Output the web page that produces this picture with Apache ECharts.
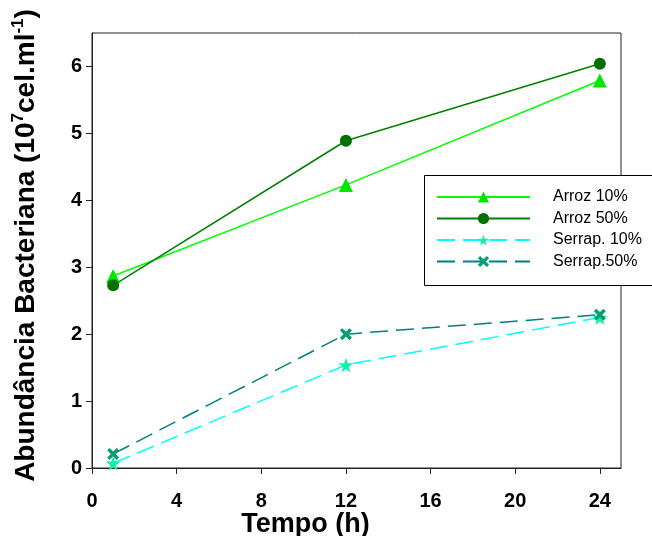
<!DOCTYPE html>
<html>
<head>
<meta charset="utf-8">
<script src="https://cdn.jsdelivr.net/npm/echarts@6/dist/echarts.min.js"></script>
<style>
html,body{margin:0;padding:0;background:#fff;}
#chart{width:652px;height:536px;}
</style>
</head>
<body>
<div id="chart"></div>
<script>
const timePoints = [1, 12, 24];
const arroz10 = [2.87, 4.23, 5.79];
const arroz50 = [2.73, 4.89, 6.04];
const serrap10 = [0.07, 1.54, 2.25];
const serrap50 = [0.21, 2.00, 2.29];
const seriesNames = ['Arroz 10%', 'Arroz 50%', 'Serrap. 10%', 'Serrap.50%'];
const xTicks = [0, 4, 8, 12, 16, 20, 24];
const yTicks = [0, 1, 2, 3, 4, 5, 6];

const FONT = 'Liberation Sans, Arial, Helvetica, sans-serif';
const STAR = 'path://M50,0 L61,35 L98,35 L68,57 L79,91 L50,70 L21,91 L32,57 L2,35 L39,35 Z';
const CROSS = 'path://M2,0 L5,3 L8,0 L10,2 L7,5 L10,8 L8,10 L5,7 L2,10 L0,8 L3,5 L0,2 Z';

function pairs(vals) { return timePoints.map((t, i) => [t, vals[i]]); }

const chart = echarts.init(document.getElementById('chart'), null, {renderer: 'canvas'});
chart.setOption({
  animation: false,
  backgroundColor: '#fff',
  grid: {left: 92, right: 31, top: 33, bottom: 68, show: true, borderColor: '#222', borderWidth: 1,
         containLabel: false, outerBoundsMode: 'none'},
  xAxis: {
    type: 'value', min: 0, max: 25, interval: 4,
    name: 'Tempo (h)', nameLocation: 'middle', nameGap: 42, nameMoveOverlap: false,
    nameTextStyle: {fontFamily: FONT, fontWeight: 'bold', fontSize: 27, color: '#000', lineHeight: 30, padding: [0, 102, 0, 0]},
    axisLine: {show: true, lineStyle: {color: '#222', width: 1}},
    axisTick: {show: true, inside: false, length: 6, customValues: xTicks, lineStyle: {color: '#222'}},
    axisLabel: {customValues: xTicks, margin: 23, fontFamily: FONT, fontWeight: 'bold', fontSize: 20, color: '#000'},
    splitLine: {show: false}
  },
  yAxis: {
    type: 'value', min: 0, max: 6.5, interval: 1,
    name: '{a|Abundância Bacteriana (10}{s|7}{a|cel.ml}{s|-1}{a|)}',
    nameLocation: 'middle', nameGap: 50, nameRotate: 90, nameMoveOverlap: false,
    nameTextStyle: {
      color: '#000',
      padding: [0, 0, 0, 10],
      rich: {
        a: {fontFamily: FONT, fontWeight: 'bold', fontSize: 28, color: '#000', lineHeight: 32},
        s: {fontFamily: FONT, fontWeight: 'bold', fontSize: 17, color: '#000', verticalAlign: 'top', lineHeight: 32}
      }
    },
    axisLine: {show: true, lineStyle: {color: '#222', width: 1}},
    axisTick: {show: true, inside: false, length: 6, customValues: yTicks, lineStyle: {color: '#222'}},
    axisLabel: {customValues: yTicks, margin: 10, fontFamily: FONT, fontWeight: 'bold', fontSize: 20, color: '#000'},
    splitLine: {show: false}
  },
  legend: {
    orient: 'vertical', left: 436, top: 189, padding: 0, z: 100,
    itemWidth: 93, itemHeight: 14, itemGap: 5.5,
    data: seriesNames,
    textStyle: {fontFamily: FONT, fontSize: 16, color: '#000', lineHeight: 16, padding: [0, 0, 0, 18]}
  },
  graphic: [{
    type: 'rect', z: 50, left: 424, top: 175,
    shape: {width: 240, height: 110},
    style: {fill: '#fff', stroke: '#000', lineWidth: 1}
  }],
  series: [
    {
      name: seriesNames[0], type: 'line', data: pairs(arroz10),
      symbol: 'triangle', symbolSize: 14,
      lineStyle: {color: '#00ff00', width: 1.5},
      itemStyle: {color: '#00e600'}
    },
    {
      name: seriesNames[1], type: 'line', data: pairs(arroz50),
      symbol: 'circle', symbolSize: 12,
      lineStyle: {color: '#008000', width: 1.5},
      itemStyle: {color: '#007000'}
    },
    {
      name: seriesNames[2], type: 'line', data: pairs(serrap10),
      symbol: STAR, symbolSize: 15,
      lineStyle: {color: '#00ffff', width: 1.5, type: [18, 8]},
      itemStyle: {color: '#10f0a8'}
    },
    {
      name: seriesNames[3], type: 'line', data: pairs(serrap50),
      symbol: CROSS, symbolSize: 12,
      lineStyle: {color: '#008080', width: 1.5, type: [18, 8]},
      itemStyle: {color: '#00a070'}
    }
  ]
});
</script>
</body>
</html>
